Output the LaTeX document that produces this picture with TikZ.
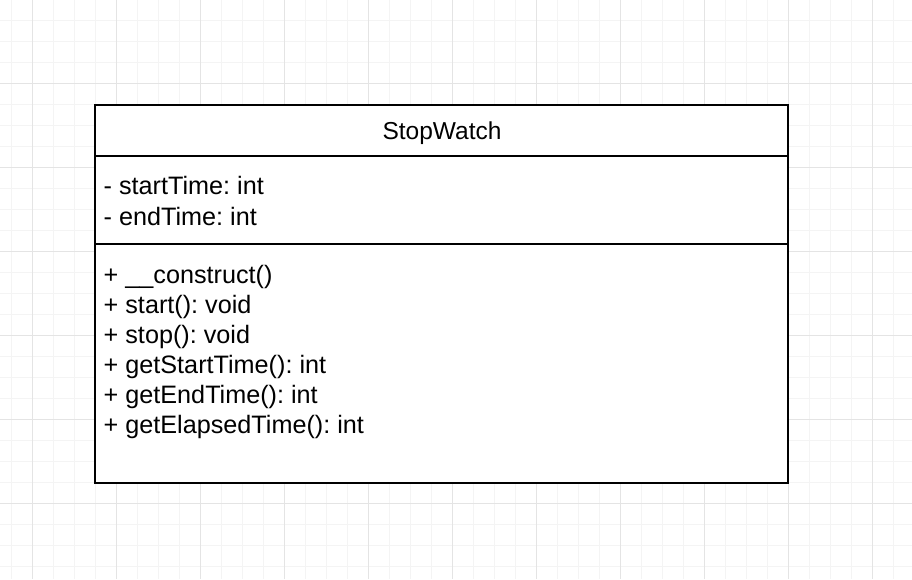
\documentclass[tikz,border=0pt]{standalone}
\usepackage{fontspec}
\setmainfont{Liberation Sans}
\definecolor{gridminor}{HTML}{F4F4F4}
\definecolor{gridmajor}{HTML}{E4E4E4}
\begin{document}
\frenchspacing
\begin{tikzpicture}[x=1pt,y=-1pt,
  compartment/.style={draw=black,line width=2pt,fill=white,minimum width=693pt,inner sep=0pt,outer sep=0pt},
  member/.style={anchor=base west,inner sep=0pt,font=\fontsize{25.2}{30}\selectfont},
  title/.style={anchor=base,inner sep=0pt,font=\fontsize{24.5}{30}\selectfont}]
  \useasboundingbox (0,0) rectangle (912,579);
  \fill[white] (0,0) rectangle (912,579);
  % background grid: fine lines every 21px, heavier every 84px
  \foreach \x in {11,32,...,911} \draw[gridminor,line width=1pt] (\x,0) -- (\x,579);
  \foreach \y in {-1,20,...,579} \draw[gridminor,line width=1pt] (0,\y) -- (912,\y);
  \foreach \x in {32,116,...,911} \draw[gridmajor,line width=1pt] (\x,0) -- (\x,579);
  \foreach \y in {83,167,...,579} \draw[gridmajor,line width=1pt] (0,\y) -- (912,\y);
  % class compartments
  \node[compartment,minimum height=51pt]  (header)  at (441.5,130.5) {};
  \node[compartment,minimum height=88pt]  (fields)  at (441.5,200) {};
  \node[compartment,minimum height=239pt] (methods) at (441.5,363.5) {};
  % class name
  \node[title] (name) at (442,139.5) {StopWatch};
  % attributes
  \node[member] (a1) at (103.5,194.5) {- startTime: int};
  \node[member] (a2) at (103.5,225) {- endTime: int};
  % operations
  \node[member] (m1) at (103.5,283.5) {+ \_\_construct()};
  \node[member] (m2) at (103.5,313.5) {+ start(): void};
  \node[member] (m3) at (103.5,343.5) {+ stop(): void};
  \node[member] (m4) at (103.5,373.5) {+ getStartTime(): int};
  \node[member] (m5) at (103.5,403.5) {+ getEndTime(): int};
  \node[member] (m6) at (103.5,433.5) {+ getElapsedTime(): int};
\end{tikzpicture}
\end{document}
